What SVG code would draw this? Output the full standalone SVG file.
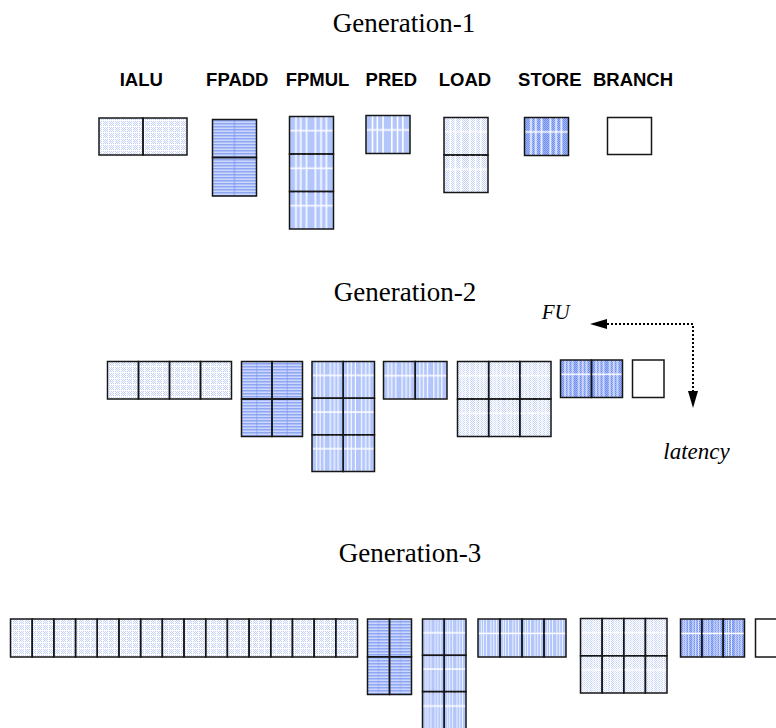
<svg xmlns="http://www.w3.org/2000/svg" width="776" height="728" viewBox="0 0 776 728">
<defs>
<style>
.title{font-family:"Liberation Serif","Times New Roman",serif;font-size:27px;fill:#000;text-anchor:middle}
.lbl{font-family:"Liberation Sans",Arial,sans-serif;font-size:18.5px;font-weight:bold;fill:#000;text-anchor:middle}
.it{font-family:"Liberation Serif","Times New Roman",serif;font-size:21px;font-style:italic;fill:#000}
.cell{fill:none;stroke:#161616;stroke-width:1.5}
.wl{fill:url(#wl);stroke:#161616;stroke-width:1.5}
.vm{fill:url(#vmid);stroke:#161616;stroke-width:1.5}
.ialu{fill:url(#ialu)}
.load{fill:url(#chk)}
.fpadd{fill:url(#str)}
.fpmul{fill:#b3c6fb}
.store{fill:url(#stk)}
.branch{fill:#fff;stroke:#161616;stroke-width:1.5}
.conn{fill:none;stroke:#000;stroke-width:2;stroke-dasharray:2 2}
</style>
<pattern id="chk" width="2" height="2" patternUnits="userSpaceOnUse"><rect width="2" height="2" fill="#fff"/><rect width="1" height="1" fill="#c2d0fa"/><rect x="1" y="1" width="1" height="1" fill="#c2d0fa"/></pattern>
<pattern id="ialu" width="6" height="6" patternUnits="userSpaceOnUse"><rect width="6" height="6" fill="url(#chk)"/><rect width="1" height="6" fill="#fff"/><rect width="6" height="1" fill="#fff"/></pattern>
<pattern id="stk" width="2" height="2" patternUnits="userSpaceOnUse"><rect width="2" height="2" fill="#a2b7f6"/><rect width="1" height="1" fill="#6f8eef"/><rect x="1" y="1" width="1" height="1" fill="#6f8eef"/></pattern>
<pattern id="str" width="3" height="3" patternUnits="userSpaceOnUse"><rect width="3" height="3" fill="#ccd7fb"/><rect width="3" height="1.5" fill="#8fa7f3"/></pattern>
<pattern id="vmid" width="1" height="1" patternContentUnits="objectBoundingBox"><rect x="0.49" width="0.02" height="1" fill="#7894f0"/></pattern>
<pattern id="wl" width="1" height="1" patternContentUnits="objectBoundingBox">
<rect x="0.13" width="0.035" height="1" fill="#fff"/><rect x="0.24" width="0.035" height="1" fill="#fff"/><rect x="0.37" width="0.035" height="1" fill="#fff"/><rect x="0.57" width="0.035" height="1" fill="#fff"/><rect x="0.70" width="0.035" height="1" fill="#fff"/><rect x="0.82" width="0.035" height="1" fill="#fff"/><rect y="0.36" width="1" height="0.04" fill="#fff"/>
</pattern>
<marker id="ah" markerUnits="userSpaceOnUse" markerWidth="18" markerHeight="10" refX="0" refY="5" orient="auto-start-reverse"><path d="M0,0 L17,5 L0,10 z" fill="#000"/></marker>
</defs>
<rect width="776" height="728" fill="#fff"/>

<text class="title" x="404" y="31.5">Generation-1</text>
<text class="title" x="405" y="301">Generation-2</text>
<text class="title" x="410" y="562">Generation-3</text>

<g id="labels">
<text class="lbl" x="141.3" y="86">IALU</text>
<text class="lbl" x="237.3" y="86">FPADD</text>
<text class="lbl" x="317.5" y="86">FPMUL</text>
<text class="lbl" x="391.3" y="86">PRED</text>
<text class="lbl" x="465" y="86">LOAD</text>
<text class="lbl" x="549.8" y="86">STORE</text>
<text class="lbl" x="633" y="86">BRANCH</text>
</g>

<!-- Generation 1 -->
<g id="g1-ialu"><rect class="ialu" x="99" y="118" width="88" height="37"/><rect class="cell" x="99" y="118" width="44" height="37"/><rect class="cell" x="143" y="118" width="44" height="37"/></g>
<g id="g1-fpadd"><rect class="fpadd" x="212.5" y="119.5" width="44" height="77"/><rect class="vm" x="212.5" y="119.5" width="44" height="38"/><rect class="vm" x="212.5" y="157.5" width="44" height="38.5"/></g>
<g id="g1-fpmul"><rect class="fpmul" x="289.5" y="116.5" width="44" height="112.5"/><rect class="wl" x="289.5" y="116.5" width="44" height="37.5"/><rect class="wl" x="289.5" y="154" width="44" height="37.5"/><rect class="wl" x="289.5" y="191.5" width="44" height="37.5"/></g>
<g id="g1-pred"><rect class="fpmul" x="366" y="115.5" width="44" height="38"/><rect class="wl" x="366" y="115.5" width="44" height="38"/></g>
<g id="g1-load"><rect class="load" x="444" y="117.5" width="44" height="75"/><rect class="wl" x="444" y="117.5" width="44" height="37.5"/><rect class="wl" x="444" y="155" width="44" height="37.5"/></g>
<g id="g1-store"><rect class="store" x="524.5" y="117.5" width="44" height="38"/><rect class="wl" x="524.5" y="117.5" width="44" height="38"/></g>
<g id="g1-branch"><rect class="branch" x="607.5" y="117.5" width="44" height="37"/></g>

<!-- Generation 2 -->
<g id="g2-ialu"><rect class="ialu" x="107.5" y="361.5" width="124" height="37.5"/><rect class="cell" x="107.5" y="361.5" width="31" height="37.5"/><rect class="cell" x="138.5" y="361.5" width="31" height="37.5"/><rect class="cell" x="169.5" y="361.5" width="31" height="37.5"/><rect class="cell" x="200.5" y="361.5" width="31" height="37.5"/></g>
<g id="g2-fpadd"><rect class="fpadd" x="241.5" y="361.5" width="61" height="75"/><rect class="vm" x="241.5" y="361.5" width="30.5" height="37.5"/><rect class="vm" x="272" y="361.5" width="30.5" height="37.5"/><rect class="vm" x="241.5" y="399" width="30.5" height="37.5"/><rect class="vm" x="272" y="399" width="30.5" height="37.5"/></g>
<g id="g2-fpmul"><rect class="fpmul" x="312" y="361.5" width="62.5" height="110"/><rect class="wl" x="312" y="361.5" width="31.25" height="36.7"/><rect class="wl" x="343.25" y="361.5" width="31.25" height="36.7"/><rect class="wl" x="312" y="398.2" width="31.25" height="36.6"/><rect class="wl" x="343.25" y="398.2" width="31.25" height="36.6"/><rect class="wl" x="312" y="434.8" width="31.25" height="36.7"/><rect class="wl" x="343.25" y="434.8" width="31.25" height="36.7"/></g>
<g id="g2-pred"><rect class="fpmul" x="383.5" y="361.5" width="63.5" height="37.5"/><rect class="wl" x="383.5" y="361.5" width="31.75" height="37.5"/><rect class="wl" x="415.25" y="361.5" width="31.75" height="37.5"/></g>
<g id="g2-load"><rect class="load" x="457.5" y="361.5" width="93.5" height="75"/><rect class="wl" x="457.5" y="361.5" width="31.17" height="37.5"/><rect class="wl" x="488.67" y="361.5" width="31.16" height="37.5"/><rect class="wl" x="519.83" y="361.5" width="31.17" height="37.5"/><rect class="wl" x="457.5" y="399" width="31.17" height="37.5"/><rect class="wl" x="488.67" y="399" width="31.16" height="37.5"/><rect class="wl" x="519.83" y="399" width="31.17" height="37.5"/></g>
<g id="g2-store"><rect class="store" x="560.5" y="360" width="62" height="37.5"/><rect class="wl" x="560.5" y="360" width="31" height="37.5"/><rect class="wl" x="591.5" y="360" width="31" height="37.5"/></g>
<g id="g2-branch"><rect class="branch" x="632.5" y="360" width="31.5" height="37.5"/></g>

<g id="connectors">
<path class="conn" d="M607,324 H693 V391" marker-start="url(#ah)" marker-end="url(#ah)"/>
</g>
<text class="it" x="541.7" y="319">FU</text>
<text class="it" x="663.3" y="459" style="font-size:23px">latency</text>

<!-- Generation 3 -->
<g id="g3-ialu"><rect class="ialu" x="10.5" y="619" width="347" height="38"/>
<rect class="cell" x="10.5" y="619" width="21.69" height="38"/><rect class="cell" x="32.19" y="619" width="21.69" height="38"/><rect class="cell" x="53.88" y="619" width="21.69" height="38"/><rect class="cell" x="75.56" y="619" width="21.69" height="38"/><rect class="cell" x="97.25" y="619" width="21.69" height="38"/><rect class="cell" x="118.94" y="619" width="21.69" height="38"/><rect class="cell" x="140.63" y="619" width="21.69" height="38"/><rect class="cell" x="162.31" y="619" width="21.69" height="38"/><rect class="cell" x="184" y="619" width="21.69" height="38"/><rect class="cell" x="205.69" y="619" width="21.69" height="38"/><rect class="cell" x="227.38" y="619" width="21.69" height="38"/><rect class="cell" x="249.06" y="619" width="21.69" height="38"/><rect class="cell" x="270.75" y="619" width="21.69" height="38"/><rect class="cell" x="292.44" y="619" width="21.69" height="38"/><rect class="cell" x="314.13" y="619" width="21.69" height="38"/><rect class="cell" x="335.81" y="619" width="21.69" height="38"/></g>
<g id="g3-fpadd"><rect class="fpadd" x="367.5" y="619" width="44" height="75.5"/><rect class="vm" x="367.5" y="619" width="22" height="37.75"/><rect class="vm" x="389.5" y="619" width="22" height="37.75"/><rect class="vm" x="367.5" y="656.75" width="22" height="37.75"/><rect class="vm" x="389.5" y="656.75" width="22" height="37.75"/></g>
<g id="g3-fpmul"><rect class="fpmul" x="422.5" y="619" width="43.5" height="110"/><rect class="wl" x="422.5" y="619" width="21.75" height="36.3"/><rect class="wl" x="444.25" y="619" width="21.75" height="36.3"/><rect class="wl" x="422.5" y="655.3" width="21.75" height="36.3"/><rect class="wl" x="444.25" y="655.3" width="21.75" height="36.3"/><rect class="wl" x="422.5" y="691.6" width="21.75" height="38"/><rect class="wl" x="444.25" y="691.6" width="21.75" height="38"/></g>
<g id="g3-pred"><rect class="fpmul" x="478" y="619" width="88" height="38"/><rect class="wl" x="478" y="619" width="22" height="38"/><rect class="wl" x="500" y="619" width="22" height="38"/><rect class="wl" x="522" y="619" width="22" height="38"/><rect class="wl" x="544" y="619" width="22" height="38"/></g>
<g id="g3-load"><rect class="load" x="580.5" y="618.5" width="86.5" height="74.5"/><rect class="wl" x="580.5" y="618.5" width="21.63" height="37.25"/><rect class="wl" x="602.13" y="618.5" width="21.62" height="37.25"/><rect class="wl" x="623.75" y="618.5" width="21.63" height="37.25"/><rect class="wl" x="645.38" y="618.5" width="21.62" height="37.25"/><rect class="wl" x="580.5" y="655.75" width="21.63" height="37.25"/><rect class="wl" x="602.13" y="655.75" width="21.62" height="37.25"/><rect class="wl" x="623.75" y="655.75" width="21.63" height="37.25"/><rect class="wl" x="645.38" y="655.75" width="21.62" height="37.25"/></g>
<g id="g3-store"><rect class="store" x="680.5" y="619" width="64" height="38"/><rect class="wl" x="680.5" y="619" width="21.33" height="38"/><rect class="wl" x="701.83" y="619" width="21.34" height="38"/><rect class="wl" x="723.17" y="619" width="21.33" height="38"/></g>
<g id="g3-branch"><rect class="branch" x="755.5" y="619" width="40" height="38"/></g>
</svg>
